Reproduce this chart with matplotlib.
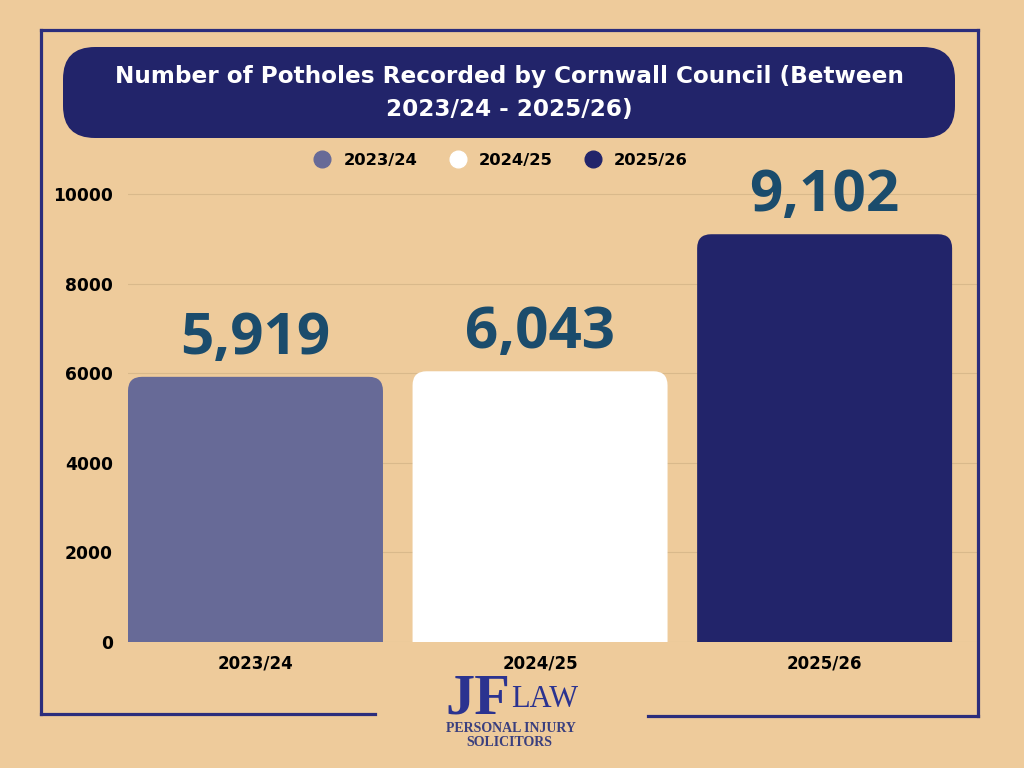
import matplotlib
matplotlib.use("Agg")
import matplotlib.pyplot as plt
from matplotlib.patches import FancyBboxPatch
from matplotlib.lines import Line2D

categories = ["2023/24", "2024/25", "2025/26"]
values = [5919, 6043, 9102]
value_labels = ["5,919", "6,043", "9,102"]
yticks = [0, 2000, 4000, 6000, 8000, 10000]
title = "Number of Potholes Recorded by Cornwall Council (Between\n2023/24 - 2025/26)"

BG = "#EECB9B"
NAVY = "#22246A"
BORDER = "#2B2D7C"
bar_colors = ["#676A97", "#FFFFFF", "#22246A"]
LABEL_C = "#1B4C6C"
FONT = ["DejaVu Sans"]
BIGFONT = ["Open Sans", "DejaVu Sans"]

plt.rcParams['font.family'] = FONT

fig = plt.figure(figsize=(10.24, 7.68), dpi=100, facecolor=BG)
ax = fig.add_axes([128/1024, 1 - 642/768, (980-128)/1024, 10300*0.0448/768])
ax.set_facecolor(BG)

x = list(range(len(categories)))
bars = ax.bar(x, values, width=0.896, color=bar_colors, zorder=3)
# replace with rounded-top bars
for b, c in zip(bars, bar_colors):
    bx, bw, bh = b.get_x(), b.get_width(), b.get_height()
    b.set_visible(False)
    r_px = 14
    xpp = (2.546 + 0.448) / (980 - 128)
    ypp = 10300 / (10300 * 0.0448)
    p = FancyBboxPatch((bx, -600), bw, bh + 600,
                       boxstyle=f"round,pad=0,rounding_size={r_px*xpp}",
                       mutation_aspect=ypp/xpp, facecolor=c, edgecolor="none",
                       zorder=3, clip_on=True)
    ax.add_patch(p)

for xi, v, lab in zip(x, values, value_labels):
    ax.text(xi, v + 510, lab, ha="center", va="baseline", fontsize=42,
            fontweight="bold", color=LABEL_C, zorder=4, family=BIGFONT)

ax.set_xlim(-0.448, 2.546)
ax.set_ylim(0, 10300)
ax.set_yticks(yticks)
ax.set_yticklabels([str(t) for t in yticks], fontsize=12.3, fontweight="bold")
ax.set_xticks(x)
ax.set_xticklabels(categories, fontsize=12, fontweight="bold")
ax.tick_params(axis="y", length=0, pad=10.8)
ax.tick_params(axis="x", length=0, pad=9)
ax.grid(axis="y", color="#D9B98B", linewidth=0.8, zorder=0)
ax.set_axisbelow(True)
for s in ax.spines.values():
    s.set_visible(False)

# legend
handles = [Line2D([], [], marker="o", linestyle="none", markersize=12,
                  markerfacecolor=c, markeredgecolor=c) for c in bar_colors]
fig.legend(handles, categories, loc="center", bbox_to_anchor=(497/1024, 1 - 160/768),
           ncol=3, frameon=False, prop={"weight": "bold", "size": 11.8},
           handletextpad=0.3, columnspacing=1.45)

# title box
tb = FancyBboxPatch((0.63, (768-138)/100), 8.92, 0.91,
                    boxstyle="round,pad=0,rounding_size=0.32",
                    transform=fig.dpi_scale_trans, facecolor=NAVY, edgecolor="none")
fig.add_artist(tb)
fig.text(509/1024, 1 - 93/768, title, ha="center", va="center", color="white",
         fontsize=16.7, fontweight="bold", linespacing=1.55)

# border
def fl(xs, ys):
    fig.add_artist(Line2D([v/1024 for v in xs], [1 - v/768 for v in ys],
                          color=BORDER, linewidth=2.3, solid_capstyle="projecting"))
fl([41, 978], [30, 30])
fl([41, 41], [30, 714])
fl([978, 978], [30, 716])
fl([41, 375], [714, 714])
fl([648, 978], [716, 716])

# logo
LOGO = "#2B3390"
SERIF = ["Liberation Serif", "DejaVu Serif"]
fig.text(478/1024, 1 - 713/768, "JF", ha="center", va="baseline", fontsize=42,
         fontweight="bold", color=LOGO, family=SERIF)
fig.text(545/1024, 1 - 707/768, "LAW", ha="center", va="baseline", fontsize=22,
         color=LOGO, family=SERIF)
fig.text(511/1024, 1 - 729/768, "PERSONAL INJURY", ha="center", va="center",
         fontsize=10, color="#3A3F7E", family=SERIF, fontweight="bold")
fig.text(509/1024, 1 - 743/768, "SOLICITORS", ha="center", va="center",
         fontsize=10, color="#3A3F7E", family=SERIF, fontweight="bold")

fig.savefig("out.png", dpi=100, facecolor=BG)
